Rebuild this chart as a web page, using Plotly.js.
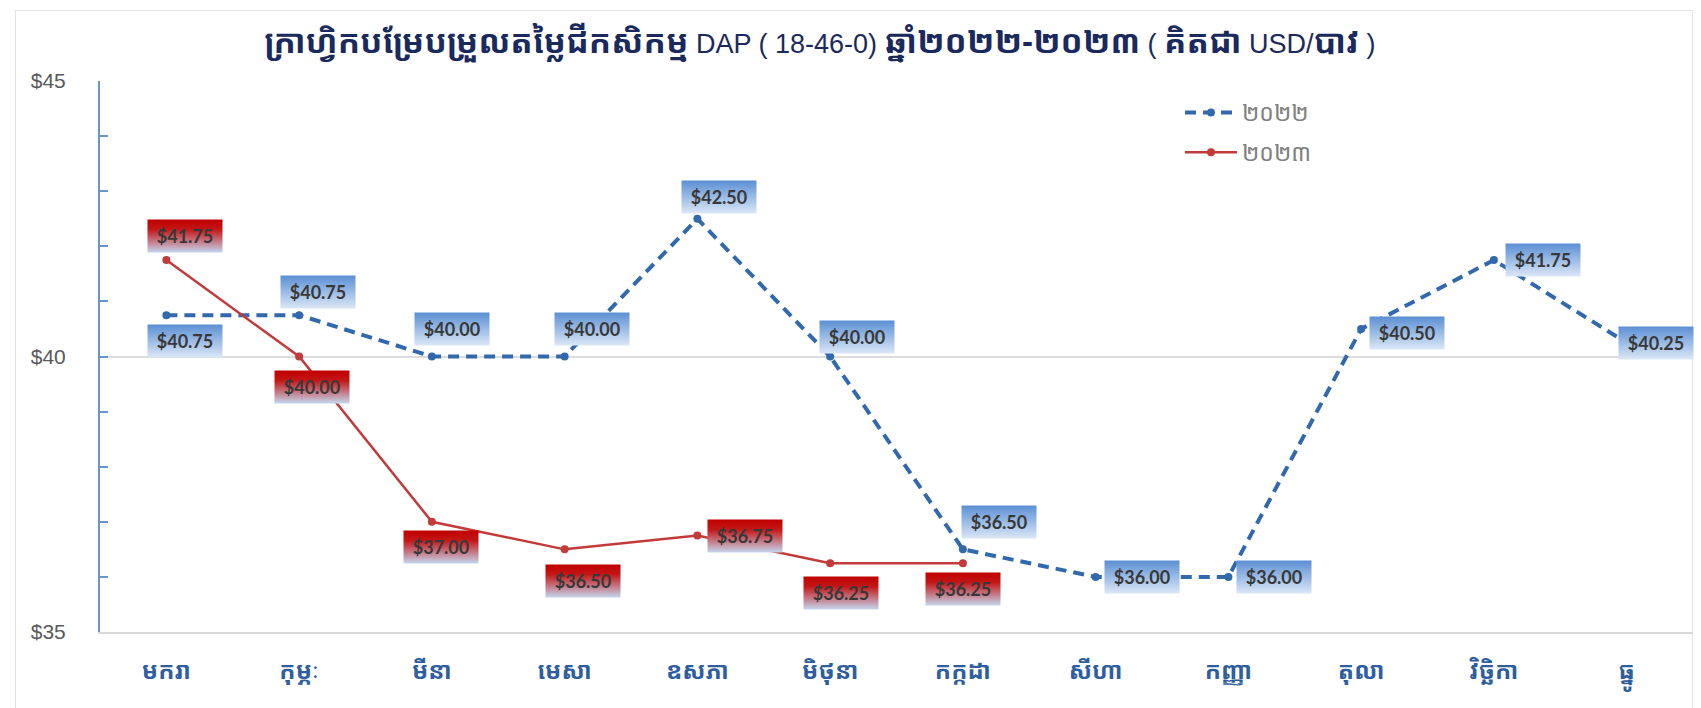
<!DOCTYPE html>
<html><head><meta charset="utf-8">
<script src="https://cdn.plot.ly/plotly-3.0.1.min.js"></script>
<style>
html,body{margin:0;padding:0;background:#fff;}
#frame{position:absolute;left:15px;top:10px;width:1678px;height:720px;border:1.5px solid #e3e3e3;box-sizing:border-box;}
#chart{position:absolute;left:0;top:0;width:1701px;height:708px;}
</style></head><body>
<div id="frame"></div>
<div id="chart"></div>
<script>
// ---- data ----
const months = ['មករា','កុម្ភៈ','មីនា','មេសា','ឧសភា','មិថុនា','កក្កដា','សីហា','កញ្ញា','តុលា','វិច្ឆិកា','ធ្នូ'];
const name2022 = '២០២២';
const name2023 = '២០២៣';
const price2022 = [40.75, 40.75, 40.00, 40.00, 42.50, 40.00, 36.50, 36.00, 36.00, 40.50, 41.75, 40.25];
const price2023 = [41.75, 40.00, 37.00, 36.50, 36.75, 36.25, 36.25];
const yTickValues = [35, 40, 45];
const yTickLabels = ['$35', '$40', '$45'];
const titleParts = [
  ['kh', 'ក្រាហ្វិកបម្រែបម្រួលតម្លៃជីកសិកម្ម'],
  ['lat', ' DAP ( 18-46-0) '],
  ['kh', 'ឆ្នាំ២០២២-២០២៣'],
  ['lat', ' ( '],
  ['kh', 'គិតជា'],
  ['lat', ' USD/'],
  ['kh', 'បាវ'],
  ['lat', ' )']
];

// ---- label placement (pixel offsets, styling only) ----
const offsets2022 = [[19,26],[19,-23],[20,-28],[27,-28],[22,-22],[27,-20],[36,-27],[46,0],[46,0],[46,4],[49,0],[29,0]];
const offsets2023 = [[19,-24],[13,30],[9,25],[18,32],[48,0],[11,30],[0,26]];

const khmerFont = "'Noto Sans Khmer','Khmer OS','Khmer OS System','Noto Sans','DejaVu Sans',sans-serif";
const blue = '#3269ad';
const red = '#c23a3a';

const titleText = titleParts.map(([k, t]) =>
  k === 'kh' ? '<span style="font-size:33px"><b>' + t + '</b></span>' : t).join('');

const traces = [
  {
    x: months, y: price2022, name: name2022, type: 'scatter', mode: 'lines+markers',
    line: {color: blue, width: 4, dash: '11px,7px'},
    marker: {color: blue, size: 8, symbol: 'circle'},
    legendgroup: 'a', cliponaxis: false
  },
  {
    x: months.slice(0, price2023.length), y: price2023, name: name2023, type: 'scatter', mode: 'lines+markers',
    line: {color: red, width: 2.5},
    marker: {color: red, size: 8, symbol: 'circle'},
    legendgroup: 'b', cliponaxis: false
  }
];

function fmt(v){ return '$' + v.toFixed(2); }
const labelFont = {family: 'Lato, "Liberation Sans", sans-serif', size: 18, color: '#383838', weight: 'bold'};
const annotations = [];
price2022.forEach((v, i) => annotations.push({
  x: months[i], y: v, xref: 'x', yref: 'y', text: fmt(v), showarrow: false,
  xshift: offsets2022[i][0], yshift: -offsets2022[i][1], width: 72, height: 30,
  bgcolor: '#a9c3e8', font: labelFont
}));
price2023.forEach((v, i) => annotations.push({
  x: months[i], y: v, xref: 'x', yref: 'y', text: fmt(v), showarrow: false,
  xshift: offsets2023[i][0], yshift: -offsets2023[i][1], width: 72, height: 30,
  bgcolor: '#c86a6a', font: labelFont
}));

const layout = {
  width: 1701, height: 708,
  margin: {l: 100, r: 8, t: 81, b: 76},
  paper_bgcolor: 'rgba(0,0,0,0)', plot_bgcolor: 'rgba(0,0,0,0)',
  title: {
    text: titleText, x: 820/1701, xanchor: 'center', y: 1 - 44/708, yanchor: 'middle',
    font: {family: '"Liberation Sans", ' + khmerFont, size: 27, color: '#1b2a5c'}
  },
  xaxis: {
    type: 'category', range: [-0.5, 11.5], showline: true, linecolor: '#d9d9d9', linewidth: 2,
    ticks: '', showgrid: false, zeroline: false, ticklabelstandoff: 16,
    tickfont: {family: khmerFont, size: 24, color: '#2f5e9e', weight: 'bold'}, fixedrange: true
  },
  yaxis: {
    range: [35, 45], tickmode: 'array', tickvals: yTickValues, ticktext: yTickLabels,
    showline: true, linecolor: '#6a95c8', linewidth: 2,
    ticks: 'inside', ticklen: 8, tickcolor: '#6a95c8', tickwidth: 1.5,
    minor: {tickmode: 'linear', tick0: 35, dtick: 1, ticks: 'inside', ticklen: 8, tickcolor: '#6a95c8', tickwidth: 1.5, showgrid: false},
    showgrid: true, gridcolor: '#dcdcdc', gridwidth: 1.5, zeroline: false,
    ticklabelstandoff: 28,
    tickfont: {family: '"Liberation Sans", Arial, sans-serif', size: 21, color: '#595959'}, fixedrange: true
  },
  showlegend: true,
  legend: {
    x: (1180-100)/1593, xanchor: 'left', y: (632-91)/551, yanchor: 'top',
    bgcolor: 'rgba(0,0,0,0)', traceorder: 'grouped', tracegroupgap: 7, itemwidth: 52,
    font: {family: khmerFont, size: 23, color: '#808080'}
  },
  annotations: annotations
};

Plotly.newPlot('chart', traces, layout, {displayModeBar: false}).then(gd => {
  const ns = 'http://www.w3.org/2000/svg';
  const svg = gd.querySelector('svg.main-svg');
  const defs = document.createElementNS(ns, 'defs');
  svg.insertBefore(defs, svg.firstChild);
  function grad(id, stops){
    const g = document.createElementNS(ns, 'linearGradient');
    g.setAttribute('id', id); g.setAttribute('x1','0'); g.setAttribute('y1','0'); g.setAttribute('x2','0'); g.setAttribute('y2','1');
    stops.forEach(([o, c]) => { const s = document.createElementNS(ns, 'stop'); s.setAttribute('offset', o); s.setAttribute('stop-color', c); g.appendChild(s); });
    defs.appendChild(g);
  }
  grad('gBlue', [['0', '#5b8fd4'], ['1', '#dbe7f6']]);
  grad('gRed', [['0', '#c00000'], ['0.3', '#c41616'], ['1', '#c5d6ef']]);
  const n2022 = price2022.length;
  gd.querySelectorAll('g.annotation').forEach(a => {
    const i = +a.getAttribute('data-index');
    const r = a.querySelector('rect.bg');
    if (r) r.style.fill = 'url(#' + (i < n2022 ? 'gBlue' : 'gRed') + ')';
  });
});
</script>
</body></html>
